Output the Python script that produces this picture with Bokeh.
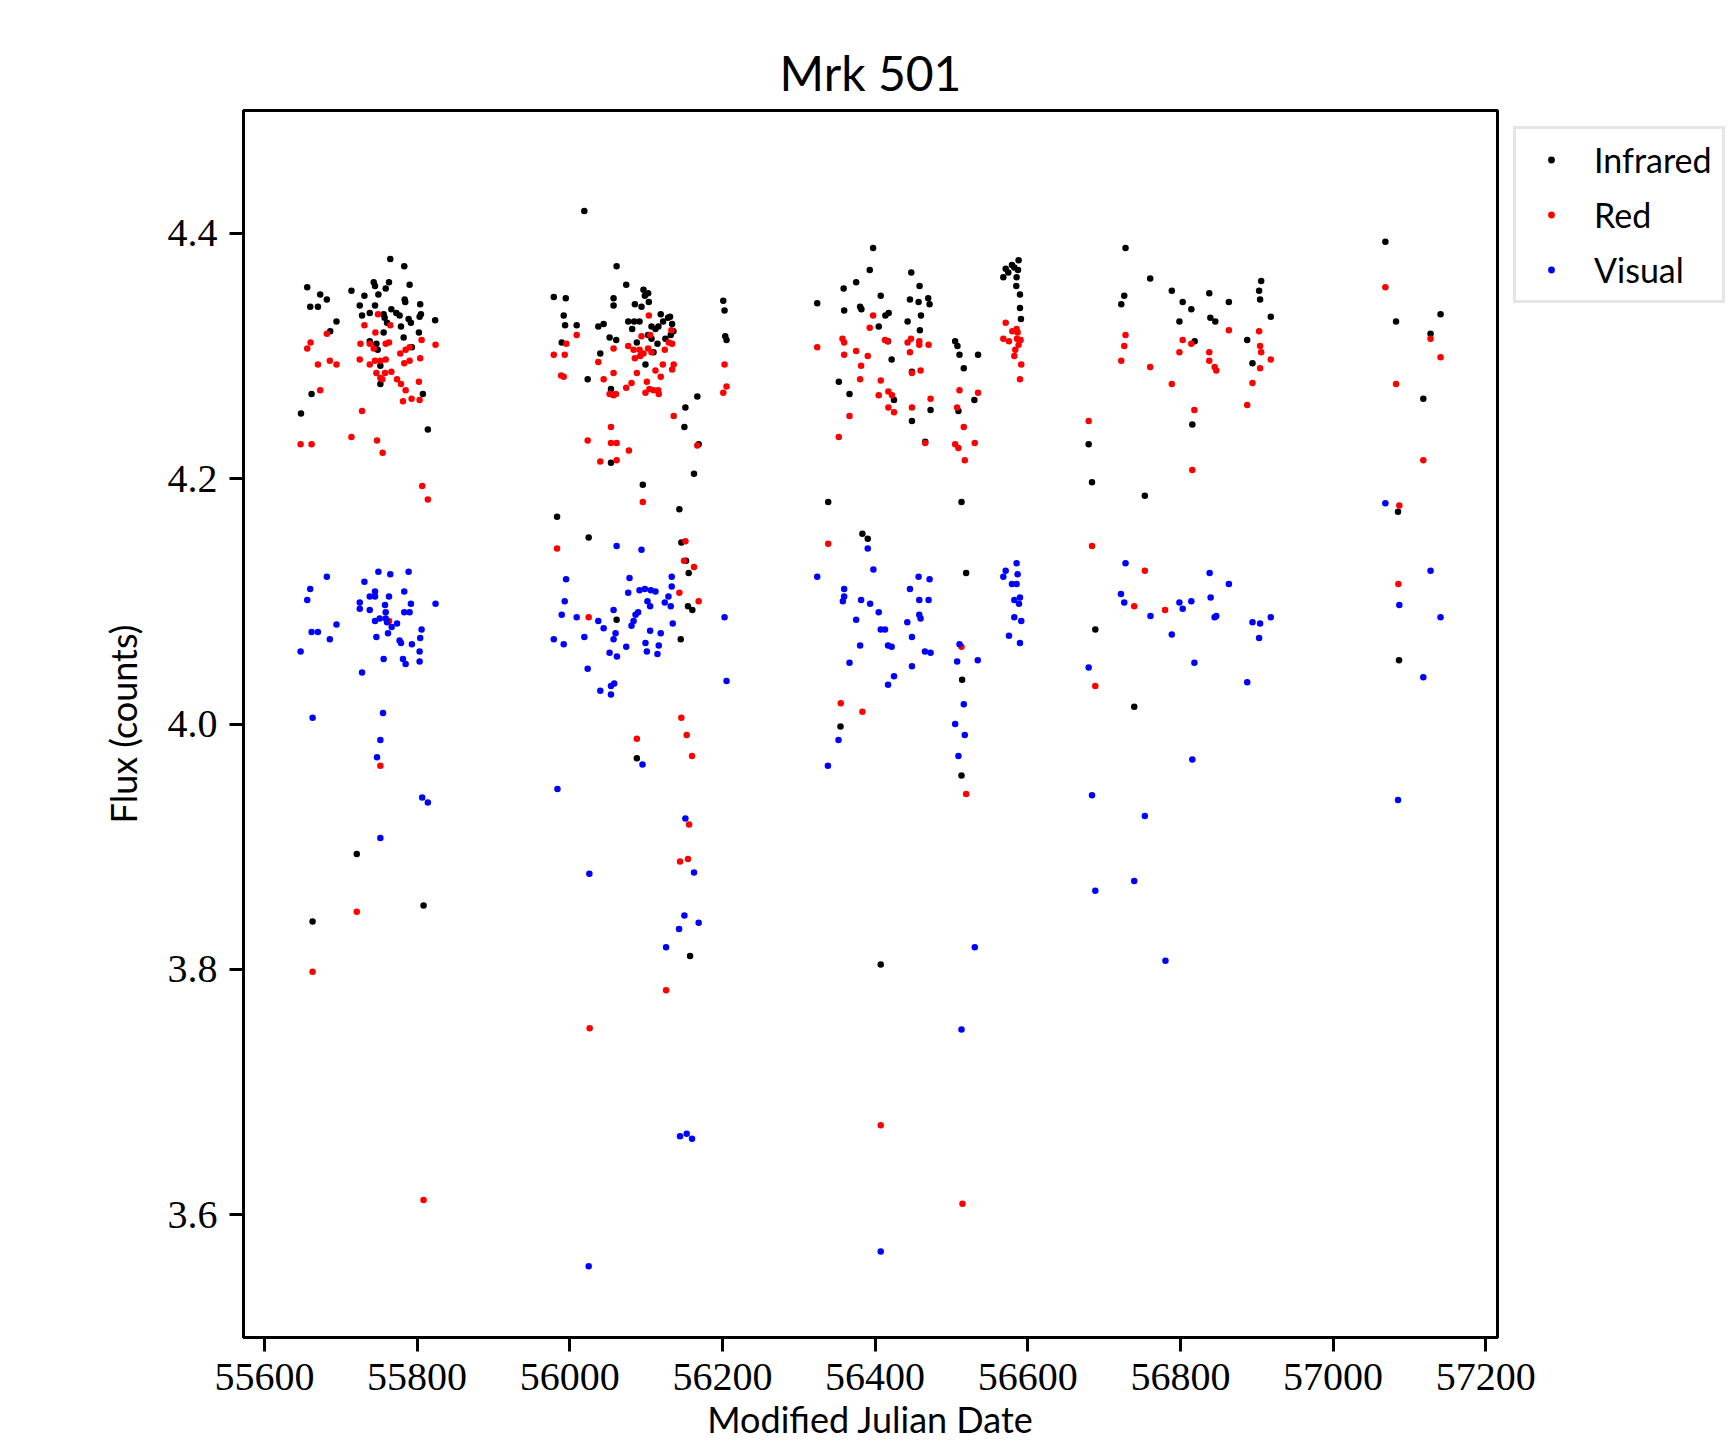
from bokeh.plotting import figure
from bokeh.models import (ColumnDataSource, Legend, LegendItem, FixedTicker,
                          Range1d, NumeralTickFormatter)
from bokeh.embed import file_html
from bokeh.resources import INLINE

# ---------------- data ----------------
ir_mjd = [
    55764.9, 55783.2, 55656.1, 55743.2, 55763.2, 55744.9, 55758.9, 55790.2, 55673.1, 55714.0,
    55731.0, 55749.3, 55681.8, 55783.7, 55784.5, 55660.0, 55670.1, 55724.9, 55744.9, 55804.1,
    55727.9, 55738.0, 55756.2, 55766.3, 55772.8, 55777.1, 55757.5, 55805.0, 55803.3, 55788.9,
    55791.9, 55823.7, 55694.4, 55760.6, 55778.9, 55686.2, 55756.2, 55802.4, 55782.4, 55738.0,
    55746.7, 55748.4, 55793.2, 55751.9, 55751.9, 55661.8, 55807.6, 55647.9, 55814.1, 55721.0,
    55808.5, 55663.1,
    56019.1, 56061.4, 56074.0, 56096.6, 56102.7, 55979.1, 55994.8, 56057.4, 56098.4, 56103.6,
    56057.4, 56085.3, 56094.0, 56201.1, 56202.8, 55992.1, 56119.2, 56131.4, 56134.1, 56135.8,
    55993.9, 56009.1, 56037.4, 56044.4, 56076.6, 56081.8, 56084.4, 56091.4, 56107.1, 56112.3,
    56116.2, 56122.3, 56128.8, 56102.7, 56107.1, 56132.3, 56125.3, 56052.2, 56060.9, 56203.7,
    56205.4, 55989.5, 56087.9, 56114.9, 56109.7, 56040.0, 56099.2, 56023.5, 56054.0, 56167.1,
    56151.5, 56150.2, 56168.9, 56054.0, 56162.8, 56095.7, 56143.6, 55983.4, 56024.8, 56146.2,
    56152.3, 56155.8, 56154.9, 56160.6, 56061.4, 56145.4, 56087.9, 56157.6,
    56397.4, 56393.0, 56375.2, 56358.8, 56407.4, 56324.2, 56359.5, 56380.4, 56382.1, 56447.4,
    56458.3, 56445.7, 56457.0, 56469.6, 56471.4, 56413.5, 56417.8, 56404.8, 56442.6, 56460.1,
    56458.7, 56417.0, 56421.7, 56448.3, 56352.5, 56366.5, 56424.8, 56472.7, 56448.3, 56465.7,
    56504.9, 56507.9, 56510.6, 56516.2, 56534.9, 56530.1, 56509.2, 56338.6, 56513.2, 56383.4,
    56390.4, 56519.3, 56514.0, 56354.7, 56513.2, 56407.4, 56588.0, 56579.3, 56582.4, 56571.1,
    56587.2, 56574.5, 56568.0, 56585.4, 56585.0, 56589.8, 56589.8, 56591.1,
    56728.1, 56760.4, 56726.4, 56722.5, 56788.7, 56803.0, 56814.3, 56798.7, 56837.8, 56863.5,
    56839.2, 56845.7, 56905.8, 56903.1, 56904.4, 56918.4, 56818.7, 56887.5, 56894.4, 56815.6,
    56679.8, 56684.2, 56753.4, 56688.5, 56739.5,
    57068.5, 57140.8, 57082.5, 57127.7, 57118.2, 57085.1, 57086.4,
]
ir_flux = [
    4.379, 4.373, 4.356, 4.360, 4.360, 4.357, 4.355, 4.358, 4.350, 4.353,
    4.349, 4.350, 4.346, 4.346, 4.344, 4.340, 4.340, 4.341, 4.341, 4.342,
    4.333, 4.335, 4.334, 4.338, 4.335, 4.333, 4.331, 4.334, 4.332, 4.330,
    4.327, 4.329, 4.328, 4.327, 4.324, 4.320, 4.319, 4.319, 4.315, 4.312,
    4.310, 4.305, 4.307, 4.292, 4.277, 4.269, 4.269, 4.253, 4.240, 3.894,
    3.852, 3.839,
    4.418, 4.373, 4.358, 4.354, 4.351, 4.348, 4.347, 4.347, 4.349, 4.344,
    4.341, 4.342, 4.340, 4.345, 4.337, 4.333, 4.334, 4.332, 4.326, 4.320,
    4.325, 4.325, 4.324, 4.326, 4.328, 4.322, 4.328, 4.328, 4.324, 4.322,
    4.324, 4.328, 4.331, 4.317, 4.314, 4.317, 4.314, 4.315, 4.313, 4.316,
    4.313, 4.311, 4.311, 4.310, 4.303, 4.302, 4.293, 4.281, 4.273, 4.267,
    4.258, 4.242, 4.228, 4.213, 4.204, 4.195, 4.175, 4.169, 4.152, 4.148,
    4.133, 4.123, 4.096, 4.093, 4.085, 4.069, 3.972, 3.811,
    4.388, 4.370, 4.360, 4.355, 4.349, 4.343, 4.337, 4.340, 4.338, 4.368,
    4.357, 4.346, 4.344, 4.347, 4.342, 4.333, 4.335, 4.324, 4.328, 4.333,
    4.321, 4.312, 4.297, 4.287, 4.279, 4.269, 4.264, 4.256, 4.247, 4.230,
    4.312, 4.308, 4.301, 4.290, 4.301, 4.264, 4.255, 4.181, 4.181, 4.155,
    4.151, 4.123, 4.036, 3.998, 3.958, 3.804, 4.378, 4.374, 4.372, 4.371,
    4.370, 4.368, 4.364, 4.364, 4.357, 4.350, 4.339, 4.330,
    4.388, 4.363, 4.349, 4.342, 4.353, 4.344, 4.338, 4.328, 4.351, 4.344,
    4.331, 4.328, 4.361, 4.353, 4.346, 4.332, 4.312, 4.313, 4.294, 4.244,
    4.228, 4.197, 4.186, 4.077, 4.014,
    4.393, 4.334, 4.328, 4.318, 4.265, 4.173, 4.052,
]

red_mjd = [
    55748.8, 55731.0, 55764.9, 55681.8, 55745.4, 55660.5, 55656.1, 55725.8, 55738.0, 55743.2,
    55763.2, 55758.9, 55805.9, 55824.2, 55790.2, 55785.0, 55778.0, 55670.1, 55685.7, 55694.4,
    55724.9, 55738.0, 55744.9, 55751.9, 55758.9, 55783.2, 55790.2, 55804.1, 55746.7, 55758.0,
    55766.3, 55751.9, 55754.5, 55773.7, 55778.9, 55785.0, 55802.4, 55673.1, 55781.5, 55792.8,
    55803.3, 55727.9, 55647.4, 55661.8, 55714.0, 55747.5, 55754.9, 55806.7, 55814.1, 55763.2,
    55751.9, 55721.0, 55663.1, 55808.5,
    56103.6, 56009.1, 55995.6, 56133.2, 56094.0, 56105.3, 56129.7, 56134.1, 55979.1, 55993.4,
    56057.4, 56076.6, 56083.6, 56091.4, 56102.7, 56096.6, 56107.1, 56085.3, 56092.3, 56124.5,
    56037.4, 56121.9, 56136.2, 56134.1, 56202.8, 55988.7, 55992.1, 56044.4, 56057.4, 56087.9,
    56112.3, 56119.2, 56101.0, 56080.9, 56074.0, 56205.4, 56201.1, 56099.2, 56104.4, 56109.7,
    56115.8, 56116.6, 56052.2, 56057.4, 56060.5, 56136.2, 56054.0, 56023.5, 56054.0, 56061.4,
    56077.5, 56040.0, 56061.4, 56167.1, 56095.7, 55983.4, 56151.5, 56149.7, 56162.8, 56143.6,
    56168.9, 56024.8, 56146.2, 56087.9, 56153.2, 56160.2, 56156.3, 56154.9, 56144.5, 56126.2,
    56026.1,
    56397.4, 56393.0, 56324.2, 56357.3, 56359.5, 56359.5, 56375.2, 56390.4, 56381.7, 56413.0,
    56416.5, 56442.6, 56447.0, 56457.9, 56457.9, 56470.1, 56445.7, 56459.6, 56448.3, 56380.4,
    56407.4, 56417.4, 56404.8, 56422.2, 56424.8, 56417.4, 56448.3, 56472.7, 56366.5, 56352.5,
    56465.7, 56510.6, 56534.9, 56507.5, 56516.2, 56504.9, 56509.2, 56530.6, 56517.5, 56338.6,
    56355.1, 56383.4, 56513.2, 56571.1, 56579.8, 56585.4, 56586.7, 56568.0, 56575.4, 56585.9,
    56590.6, 56588.0, 56583.7, 56582.4, 56591.5, 56589.8, 56519.3, 56407.4, 56514.5,
    56728.1, 56726.4, 56722.5, 56760.4, 56788.7, 56803.0, 56798.7, 56814.3, 56837.8, 56837.8,
    56844.8, 56847.0, 56863.5, 56903.1, 56904.4, 56905.8, 56918.4, 56904.4, 56894.4, 56887.5,
    56818.3, 56679.8, 56815.6, 56684.2, 56753.4, 56739.5, 56779.9, 56688.5,
    57068.5, 57127.7, 57140.8, 57082.5, 57118.2, 57086.8, 57085.5,
]
red_flux = [
    4.334, 4.325, 4.325, 4.318, 4.319, 4.311, 4.306, 4.310, 4.310, 4.306,
    4.311, 4.310, 4.313, 4.309, 4.307, 4.305, 4.302, 4.293, 4.296, 4.293,
    4.297, 4.293, 4.296, 4.296, 4.297, 4.294, 4.296, 4.298, 4.286, 4.286,
    4.287, 4.282, 4.281, 4.281, 4.277, 4.272, 4.279, 4.272, 4.263, 4.265,
    4.264, 4.255, 4.228, 4.228, 4.234, 4.231, 4.221, 4.194, 4.183, 4.084,
    3.966, 3.847, 3.798, 3.612,
    4.333, 4.317, 4.310, 4.321, 4.316, 4.317, 4.311, 4.310, 4.301, 4.301,
    4.306, 4.308, 4.305, 4.305, 4.306, 4.302, 4.303, 4.298, 4.300, 4.305,
    4.295, 4.293, 4.293, 4.289, 4.293, 4.284, 4.283, 4.281, 4.286, 4.286,
    4.288, 4.283, 4.279, 4.278, 4.274, 4.275, 4.270, 4.270, 4.273, 4.272,
    4.272, 4.269, 4.269, 4.268, 4.269, 4.251, 4.242, 4.231, 4.229, 4.229,
    4.223, 4.214, 4.215, 4.227, 4.181, 4.143, 4.149, 4.133, 4.128, 4.107,
    4.100, 4.087, 4.005, 3.988, 3.991, 3.974, 3.918, 3.890, 3.888, 3.783,
    3.752,
    4.333, 4.323, 4.307, 4.314, 4.311, 4.301, 4.304, 4.300, 4.292, 4.313,
    4.312, 4.311, 4.314, 4.312, 4.309, 4.309, 4.303, 4.288, 4.286, 4.281,
    4.280, 4.271, 4.268, 4.268, 4.254, 4.258, 4.258, 4.265, 4.251, 4.234,
    4.229, 4.272, 4.270, 4.258, 4.242, 4.228, 4.225, 4.229, 4.215, 4.147,
    4.017, 4.010, 4.063, 4.327, 4.320, 4.322, 4.319, 4.314, 4.312, 4.314,
    4.313, 4.309, 4.305, 4.300, 4.293, 4.281, 3.943, 3.673, 3.609,
    4.317, 4.308, 4.296, 4.291, 4.277, 4.313, 4.303, 4.310, 4.303, 4.296,
    4.291, 4.288, 4.321, 4.320, 4.308, 4.303, 4.297, 4.290, 4.278, 4.260,
    4.256, 4.247, 4.207, 4.145, 4.125, 4.096, 4.093, 4.031,
    4.356, 4.314, 4.299, 4.277, 4.215, 4.178, 4.114,
]

vis_mjd = [
    55749.3, 55764.9, 55788.9, 55681.8, 55731.0, 55660.0, 55783.2, 55656.1, 55738.0, 55744.9,
    55744.9, 55763.2, 55724.9, 55724.9, 55791.9, 55824.2, 55738.0, 55758.0, 55758.9, 55783.2,
    55790.2, 55751.0, 55744.9, 55758.9, 55760.6, 55766.7, 55773.7, 55694.4, 55661.8, 55670.1,
    55685.7, 55746.7, 55761.9, 55777.1, 55778.9, 55805.9, 55804.1, 55793.2, 55647.4, 55803.3,
    55756.2, 55781.5, 55785.0, 55803.3, 55727.9, 55663.1, 55755.4, 55751.9, 55747.5, 55806.7,
    55814.1, 55751.9,
    56061.4, 56094.0, 55995.2, 56078.3, 56133.6, 56076.6, 56091.4, 56098.4, 56106.2, 56112.3,
    56133.6, 56129.3, 55993.4, 56101.8, 56105.3, 56124.5, 56132.3, 55989.5, 56009.1, 56057.4,
    56089.6, 56086.2, 56083.6, 56080.9, 56037.4, 56044.4, 56134.9, 56202.8, 55979.1, 55992.1,
    56019.1, 56060.0, 56057.4, 56105.3, 56119.2, 56074.0, 56099.2, 56116.6, 56052.2, 56061.8,
    56101.0, 56114.9, 56023.5, 56205.4, 56040.0, 56054.0, 56058.3, 56054.0, 56095.3, 55983.9,
    56151.5, 56025.7, 56162.8, 56150.2, 56168.9, 56143.2, 56126.2, 56144.5, 56153.2, 56160.2,
    56024.8,
    56324.2, 56390.4, 56397.8, 56359.5, 56359.5, 56357.8, 56381.7, 56393.5, 56404.8, 56375.2,
    56407.4, 56413.0, 56380.4, 56417.0, 56421.7, 56366.5, 56424.8, 56417.0, 56457.0, 56471.4,
    56445.7, 56457.9, 56470.1, 56442.2, 56457.9, 56459.6, 56448.3, 56465.3, 56472.7, 56448.3,
    56510.6, 56507.5, 56534.5, 56516.2, 56504.9, 56585.4, 56571.1, 56568.0, 56586.7, 56579.3,
    56585.4, 56589.8, 56582.4, 56588.5, 56582.4, 56591.5, 56575.4, 56589.8, 56352.1, 56338.2,
    56517.5, 56509.2, 56530.6, 56513.2, 56407.4,
    56728.1, 56722.1, 56726.4, 56760.8, 56788.7, 56798.7, 56803.0, 56814.3, 56838.3, 56863.5,
    56839.6, 56844.8, 56847.0, 56894.4, 56904.4, 56918.4, 56903.1, 56818.3, 56887.5, 56679.8,
    56815.6, 56684.2, 56753.4, 56739.5, 56688.5, 56780.4,
    57068.5, 57127.7, 57086.8, 57140.8, 57118.2, 57085.1,
]
vis_flux = [
    4.124, 4.122, 4.124, 4.120, 4.116, 4.110, 4.108, 4.101, 4.104, 4.104,
    4.108, 4.104, 4.099, 4.094, 4.098, 4.098, 4.093, 4.097, 4.091, 4.091,
    4.091, 4.086, 4.084, 4.086, 4.083, 4.079, 4.082, 4.081, 4.075, 4.075,
    4.069, 4.071, 4.074, 4.068, 4.066, 4.077, 4.070, 4.065, 4.059, 4.059,
    4.053, 4.053, 4.049, 4.051, 4.042, 4.005, 4.009, 3.987, 3.973, 3.940,
    3.936, 3.907,
    4.145, 4.142, 4.118, 4.119, 4.120, 4.107, 4.109, 4.110, 4.109, 4.108,
    4.112, 4.104, 4.100, 4.100, 4.096, 4.099, 4.096, 4.089, 4.087, 4.093,
    4.091, 4.089, 4.084, 4.080, 4.084, 4.078, 4.082, 4.087, 4.069, 4.065,
    4.071, 4.074, 4.069, 4.076, 4.074, 4.063, 4.066, 4.064, 4.058, 4.055,
    4.059, 4.057, 4.045, 4.035, 4.027, 4.031, 4.033, 4.024, 3.967, 3.947,
    3.923, 3.878, 3.879, 3.844, 3.838, 3.833, 3.818, 3.664, 3.666, 3.662,
    3.558,
    4.120, 4.143, 4.126, 4.110, 4.104, 4.100, 4.101, 4.098, 4.091, 4.085,
    4.077, 4.077, 4.064, 4.064, 4.063, 4.050, 4.039, 4.032, 4.120, 4.118,
    4.110, 4.101, 4.101, 4.083, 4.089, 4.086, 4.071, 4.059, 4.058, 4.047,
    4.065, 4.051, 4.052, 4.016, 4.000, 4.131, 4.125, 4.120, 4.122, 4.114,
    4.114, 4.103, 4.101, 4.098, 4.087, 4.084, 4.072, 4.066, 3.987, 3.966,
    3.991, 3.974, 3.818, 3.751, 3.570,
    4.131, 4.106, 4.099, 4.088, 4.073, 4.099, 4.094, 4.100, 4.123, 4.114,
    4.103, 4.087, 4.088, 4.083, 4.082, 4.087, 4.070, 4.050, 4.034, 4.046,
    3.971, 3.942, 3.925, 3.872, 3.864, 3.807,
    4.180, 4.125, 4.097, 4.087, 4.038, 3.938,
]

series_names = ["Infrared", "Red", "Visual"]
series_colors = ["black", "red", "blue"]
x_ticks = [55600, 55800, 56000, 56200, 56400, 56600, 56800, 57000, 57200]
y_ticks = [3.6, 3.8, 4.0, 4.2, 4.4]

# ---------------- figure ----------------
p = figure(frame_width=1254, frame_height=1227, output_backend="svg", toolbar_location=None,
           x_range=Range1d(55572.6, 57215.4), y_range=Range1d(3.5, 4.5),
           min_border_left=243, min_border_right=0, min_border_top=110, min_border_bottom=0,
           title="Mrk 501")
p.background_fill_color = "white"
p.border_fill_color = "white"
p.grid.visible = False
p.outline_line_color = "black"
p.outline_line_width = 3
p.outline_line_alpha = 1.0

p.title.text_font = "Lato"
p.title.text_font_size = "48px"
p.title.text_font_style = "normal"
p.title.text_color = "black"
p.title.align = "center"
p.title.standoff = 19

for ax in (p.xaxis[0], p.yaxis[0]):
    ax.axis_line_width = 3
    ax.axis_line_color = "black"
    ax.major_tick_line_width = 3
    ax.major_tick_line_color = "black"
    ax.major_tick_out = 14
    ax.major_tick_in = 0
    ax.minor_tick_line_color = None
    ax.major_label_text_font = "Liberation Serif"
    ax.major_label_text_font_size = "40px"
    ax.major_label_text_color = "black"
    ax.axis_label_text_font = "Lato"
    ax.axis_label_text_font_size = "36px"
    ax.axis_label_text_font_style = "normal"
    ax.axis_label_text_color = "black"

p.xaxis.ticker = FixedTicker(ticks=x_ticks)
p.xaxis.formatter = NumeralTickFormatter(format="0")
p.xaxis.major_label_standoff = 12
p.xaxis.axis_label = "Modified Julian Date"
p.xaxis.axis_label_standoff = 4

p.yaxis.ticker = FixedTicker(ticks=y_ticks)
p.yaxis.formatter = NumeralTickFormatter(format="0.0")
p.yaxis.major_label_standoff = 12
p.yaxis.axis_label = "Flux (counts)"
p.yaxis.axis_label_standoff = 20

renderers = []
for xs, ys, col in ((ir_mjd, ir_flux, series_colors[0]),
                    (red_mjd, red_flux, series_colors[1]),
                    (vis_mjd, vis_flux, series_colors[2])):
    src = ColumnDataSource(data=dict(x=xs, y=ys))
    r = p.scatter("x", "y", source=src, size=6.5, fill_color=col, line_color=None)
    renderers.append(r)

legend = Legend(items=[LegendItem(label=n, renderers=[r]) for n, r in zip(series_names, renderers)],
                location="top_left")
legend.glyph_width = 50
legend.glyph_height = 17
legend.label_height = 40
legend.spacing = 14
legend.padding = 10
legend.margin = 16
legend.label_standoff = 18
legend.label_text_font = "Lato"
legend.label_text_font_size = "34px"
legend.label_text_color = "black"
legend.border_line_color = "#cccccc"
legend.border_line_width = 3
legend.background_fill_color = "white"
legend.background_fill_alpha = 1.0
p.add_layout(legend, "right")

open("out.html", "w").write(file_html(p, INLINE))
